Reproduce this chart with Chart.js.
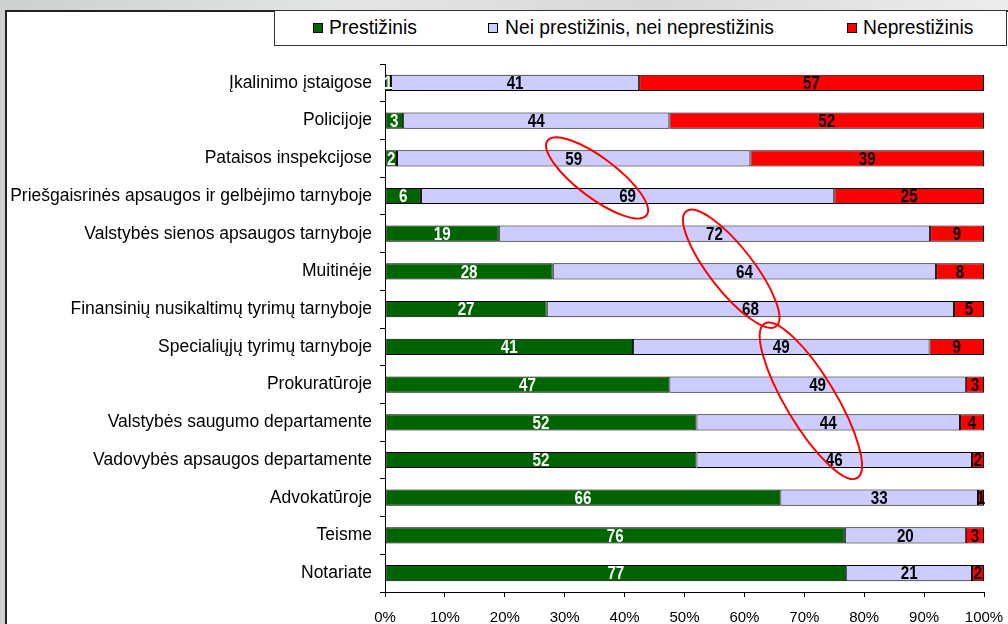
<!DOCTYPE html>
<html lang="lt">
<head>
  <meta charset="UTF-8" />
  <title>Prestižas</title>
  <style>
body {
    margin: 0;
    width: 1008px;
    height: 624px;
    overflow: hidden;
    background: linear-gradient(to right, #cdd1cd, #e3e6e3 35%, #d6d9d6 65%, #eceeec);
    font-family: 'Liberation Sans', Arial, sans-serif;
    position: relative;
}

.frame {
    position: absolute;
    left: 5px;
    top: 10px;
    width: 1010px;
    height: 620px;
    background: #fff;
    border: 2px solid #222;
    box-sizing: border-box;
}

canvas {
    position: absolute;
    left: 0;
    top: 0;
}

.legend {
    position: absolute;
    left: 274px;
    top: 10px;
    width: 733px;
    height: 36px;
    border: 1.5px solid #333;
    box-sizing: border-box;
    background: #fff;
    z-index: 2;
}

.legend span {
    position: absolute;
    top: 6px;
    font-size: 19.3px;
    color: #000;
    white-space: nowrap;
}

.legend i {
    position: absolute;
    top: 12px;
    width: 10px;
    height: 10px;
    border: 1px solid #000;
    box-sizing: border-box;
}
  </style>
</head>
<body>
  <div class="frame"></div>
  <div class="legend" id="legend"></div>
  <canvas id="chart" width="1008" height="624"></canvas>

  <script src="https://cdn.jsdelivr.net/npm/chart.js"></script>
  <script>
    const categories = [
      'Įkalinimo įstaigose',
      'Policijoje',
      'Pataisos inspekcijose',
      'Priešgaisrinės apsaugos ir gelbėjimo tarnyboje',
      'Valstybės sienos apsaugos tarnyboje',
      'Muitinėje',
      'Finansinių nusikaltimų tyrimų tarnyboje',
      'Specialiųjų tyrimų tarnyboje',
      'Prokuratūroje',
      'Valstybės saugumo departamente',
      'Vadovybės apsaugos departamente',
      'Advokatūroje',
      'Teisme',
      'Notariate'
    ];
    const seriesNames = ['Prestižinis', 'Nei prestižinis, nei neprestižinis', 'Neprestižinis'];
    const prestizinis   = [1, 3, 2, 6, 19, 28, 27, 41, 47, 52, 52, 66, 76, 77];
    const neutralus     = [41, 44, 59, 69, 72, 64, 68, 49, 49, 44, 46, 33, 20, 21];
    const neprestizinis = [57, 52, 39, 25, 9, 8, 5, 9, 3, 4, 2, 1, 3, 2];
    const xTicks = [0, 10, 20, 30, 40, 50, 60, 70, 80, 90, 100];

    const colors = ['#006400', '#ccccff', '#ff0000'];
    const labelColors = ['#fff', '#000', '#000'];

    // 100% stacked: each row scaled by its own total
    const rowSums = categories.map((c, i) => prestizinis[i] + neutralus[i] + neprestizinis[i]);
    const raw = [prestizinis, neutralus, neprestizinis];
    const pct = raw.map(arr => arr.map((v, i) => v / rowSums[i] * 100));

    // red ellipses drawn on the original (center in % / row index, radii in px)
    const ellipses = [
      { x: 35.4, row: 2.52, rx: 62, ry: 20, angle: 37 },
      { x: 57.8, row: 4.93, rx: 73, ry: 22, angle: 52 },
      { x: 71.1, row: 8.43, rx: 90, ry: 25, angle: 59 }
    ];

    // legend
    const legendPos = [[38, 54], [213, 230], [572, 588]];
    const legend = document.getElementById('legend');
    seriesNames.forEach((name, k) => {
      const sq = document.createElement('i');
      sq.style.left = legendPos[k][0] + 'px';
      sq.style.background = colors[k];
      const tx = document.createElement('span');
      tx.style.left = legendPos[k][1] + 'px';
      tx.textContent = name;
      legend.appendChild(sq);
      legend.appendChild(tx);
    });

    // narrow bold numbers on the bars (squeezed Liberation Sans Bold)
    const valueLabels = {
      id: 'valueLabels',
      afterDatasetsDraw(chart) {
        const ctx = chart.ctx;
        ctx.font = "bold 19px 'Liberation Sans', Arial, sans-serif";
        ctx.textAlign = 'center';
        ctx.textBaseline = 'middle';
        chart.data.datasets.forEach((ds, d) => {
          const meta = chart.getDatasetMeta(d);
          ctx.fillStyle = labelColors[d];
          meta.data.forEach((bar, i) => {
            ctx.save();
            ctx.translate((bar.x + bar.base) / 2, bar.y + 1);
            ctx.scale(0.8, 1);
            ctx.fillText(String(raw[d][i]), 0, 0);
            ctx.restore();
          });
        });
      }
    };

    const ellipsePlugin = {
      id: 'ellipses',
      afterDraw(chart) {
        const ctx = chart.ctx;
        const xs = chart.scales.x, ys = chart.scales.y;
        ctx.save();
        ctx.strokeStyle = '#ff0000';
        ctx.lineWidth = 2;
        ellipses.forEach(e => {
          ctx.beginPath();
          ctx.ellipse(xs.getPixelForValue(e.x), ys.getPixelForValue(e.row),
            e.rx, e.ry, e.angle * Math.PI / 180, 0, Math.PI * 2);
          ctx.stroke();
        });
        ctx.restore();
      }
    };

    new Chart(document.getElementById('chart'), {
      type: 'bar',
      data: {
        labels: categories,
        datasets: seriesNames.map((name, k) => ({
          label: name,
          data: pct[k],
          backgroundColor: colors[k],
          borderColor: '#000',
          borderWidth: 1,
          borderSkipped: false,
          barPercentage: 0.43,
          categoryPercentage: 1
        }))
      },
      options: {
        indexAxis: 'y',
        responsive: false,
        animation: false,
        devicePixelRatio: 1,
        layout: { padding: { top: 64, right: 24, left: 0, bottom: 0 } },
        plugins: {
          legend: { display: false },
          tooltip: { enabled: false }
        },
        scales: {
          x: {
            stacked: true,
            min: 0,
            max: 100,
            afterBuildTicks(scale) {
              scale.ticks = xTicks.map(v => ({ value: v }));
            },
            afterFit(scale) {
              scale.height = 32;
              scale.paddingLeft = 0;
              scale.paddingRight = 0;
            },
            ticks: {
              callback: v => v + '%',
              color: '#000',
              padding: 12,
              maxRotation: 0,
              font: { family: "'Liberation Sans', Arial, sans-serif", size: 15 }
            },
            grid: { drawOnChartArea: false, tickLength: 5, color: '#000' },
            border: { color: '#000', width: 1 }
          },
          y: {
            stacked: true,
            afterFit(scale) { scale.width = 385; },
            ticks: {
              color: '#000',
              padding: 8,
              font: { family: "'Liberation Sans', Arial, sans-serif", size: 17.5 }
            },
            grid: { drawOnChartArea: false, offset: true, tickLength: 5, color: '#000' },
            border: { color: '#000', width: 1 }
          }
        }
      },
      plugins: [valueLabels, ellipsePlugin]
    });
  </script>
</body>
</html>
